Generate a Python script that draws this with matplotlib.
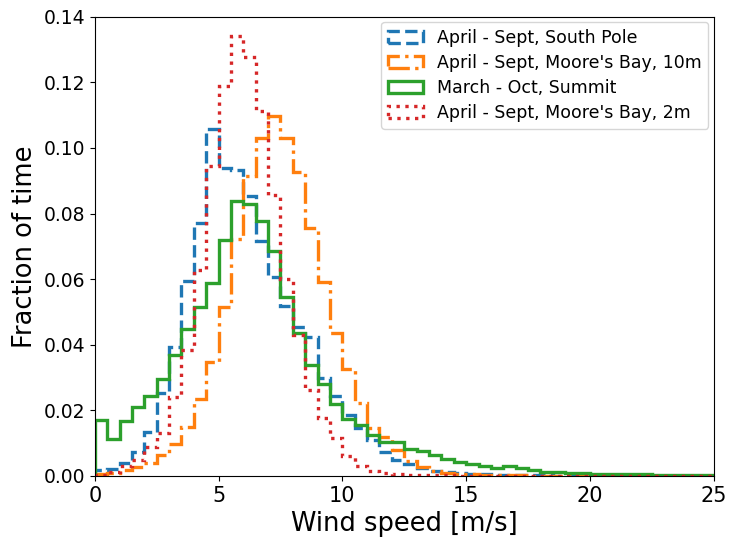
import numpy as np
import matplotlib
matplotlib.use("Agg")
import matplotlib.pyplot as plt

# Wind speed histograms, 0.5 m/s bins from 0 to 25 m/s
edges = np.arange(0, 25.01, 0.5)
centers = 0.5 * (edges[:-1] + edges[1:])

south_pole = [0.0018, 0.0020, 0.0039, 0.0072, 0.0135, 0.0253, 0.0392, 0.0595, 0.0770, 0.1059,
              0.0939, 0.0933, 0.0852, 0.0717, 0.0608, 0.0519, 0.0455, 0.0424, 0.0299, 0.0245,
              0.0186, 0.0146, 0.0108, 0.0074, 0.0049, 0.0036, 0.0025, 0.0015, 0.0012, 0.0008,
              0.0006, 0.0005, 0.0004, 0.0003, 0.0003, 0.0002, 0.0002, 0.0001, 0.0001, 0.0001,
              0.0001, 0.0001, 0.0001, 0.0001, 0.0001, 0.0001, 0.0001, 0.0001, 0.0001, 0.0001]

moores_10m = [0.0005, 0.0010, 0.0018, 0.0028, 0.0040, 0.0064, 0.0098, 0.0150, 0.0234, 0.0346,
              0.0514, 0.0722, 0.0915, 0.1030, 0.1098, 0.1030, 0.0928, 0.0755, 0.0592, 0.0435,
              0.0325, 0.0222, 0.0145, 0.0120, 0.0079, 0.0045, 0.0028, 0.0014, 0.0010, 0.0007,
              0.0005, 0.0004, 0.0003, 0.0002, 0.0002, 0.0001, 0.0001, 0.0001, 0.0001, 0.0001,
              0.0001, 0.0001, 0.0001, 0.0001, 0.0001, 0.0001, 0.0001, 0.0001, 0.0001, 0.0001]

summit = [0.0171, 0.0113, 0.0168, 0.0211, 0.0244, 0.0294, 0.0368, 0.0447, 0.0515, 0.0589,
          0.0720, 0.0837, 0.0830, 0.0777, 0.0687, 0.0547, 0.0435, 0.0338, 0.0279, 0.0220,
          0.0173, 0.0155, 0.0124, 0.0102, 0.0102, 0.0083, 0.0077, 0.0064, 0.0052, 0.0043,
          0.0037, 0.0030, 0.0025, 0.0031, 0.0023, 0.0018, 0.0013, 0.0013, 0.0010, 0.0008,
          0.0006, 0.0006, 0.0006, 0.0005, 0.0007, 0.0004, 0.0003, 0.0003, 0.0002, 0.0002]

moores_2m = [0.0003, 0.0013, 0.0030, 0.0048, 0.0088, 0.0131, 0.0240, 0.0384, 0.0629, 0.0944,
             0.1190, 0.1340, 0.1278, 0.1114, 0.0857, 0.0600, 0.0430, 0.0262, 0.0176, 0.0115,
             0.0061, 0.0030, 0.0016, 0.0010, 0.0006, 0.0004, 0.0003, 0.0002, 0.0002, 0.0001,
             0.0001, 0.0001, 0.0001, 0.0001, 0.0001, 0.0001, 0.0001, 0.0001, 0.0001, 0.0001,
             0.0001, 0.0001, 0.0001, 0.0001, 0.0001, 0.0001, 0.0001, 0.0001, 0.0001, 0.0001]

fig = plt.figure(figsize=(7.29, 5.42), dpi=100)
ax = fig.add_axes([0.130, 0.122, 0.849, 0.847])

ax.hist(centers, bins=edges, weights=south_pole, histtype='step', lw=2.4,
        ls='--', color='C0', label="April - Sept, South Pole")
ax.hist(centers, bins=edges, weights=moores_10m, histtype='step', lw=2.4,
        ls='-.', color='C1', label="April - Sept, Moore's Bay, 10m")
ax.hist(centers, bins=edges, weights=summit, histtype='step', lw=2.4,
        ls='-', color='C2', label="March - Oct, Summit")
ax.hist(centers, bins=edges, weights=moores_2m, histtype='step', lw=2.4,
        ls=':', color='C3', label="April - Sept, Moore's Bay, 2m")

ax.set_xlim(0, 25)
ax.set_ylim(0, 0.14)
ax.set_yticks(np.arange(0, 0.141, 0.02))
ax.set_xlabel("Wind speed [m/s]", fontsize=18.5)
ax.set_ylabel("Fraction of time", fontsize=18.5)
ax.tick_params(axis='x', labelsize=15)
ax.tick_params(axis='y', labelsize=13.5)
ax.legend(loc='upper right', fontsize=12.5, labelspacing=0.4, borderaxespad=0.3)

fig.savefig("out.png", dpi=100)
